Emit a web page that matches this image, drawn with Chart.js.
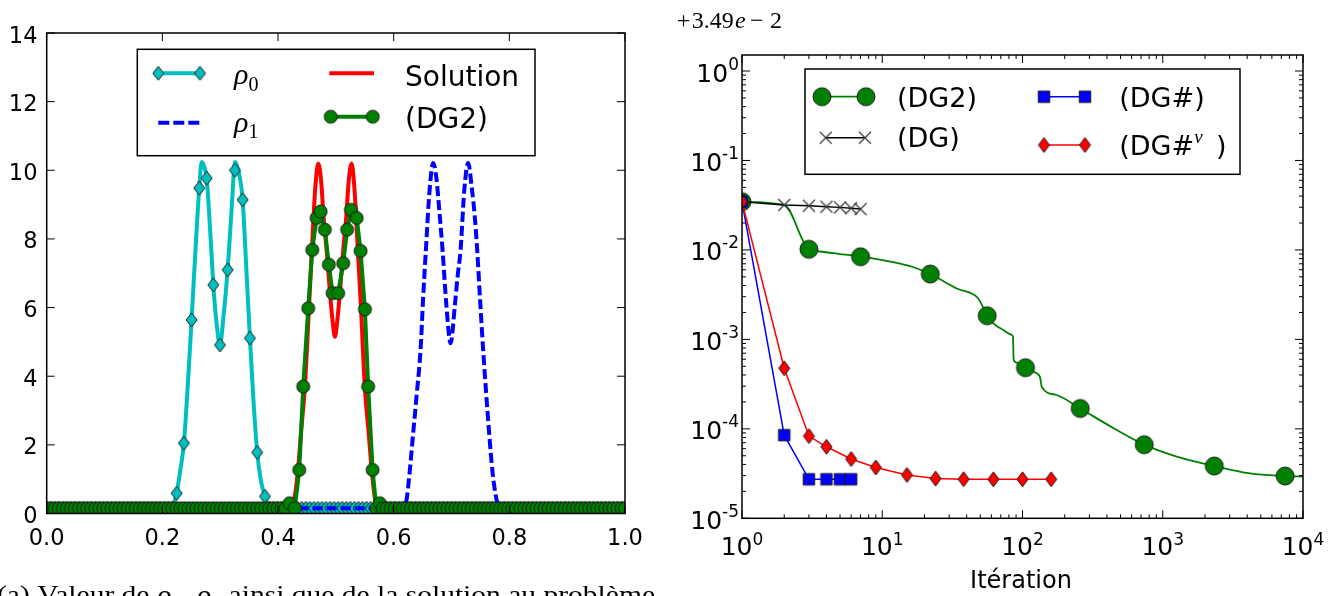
<!DOCTYPE html>
<html>
<head>
<meta charset="utf-8">
<title>rho profiles / convergence</title>
<script src="https://cdn.jsdelivr.net/npm/chart.js"></script>
<style>
  html, body { margin: 0; padding: 0; background: #fff; }
  #page { position: relative; width: 1336px; height: 596px; overflow: hidden; }
  #page canvas { position: absolute; left: 0; top: 0; }
</style>
</head>
<body>
<div id="page">
  <canvas id="profiles" width="1336" height="596"></canvas>
  <canvas id="convergence" width="1336" height="596"></canvas>
</div>
<script>
// ---------- left panel : densities on [0, 1] ----------
// x positions of the sample nodes lying on the floor value
const baseGrid = [
  0, .007, .014, .021, .028, .035, .042, .049, .056, .063,
  .070, .077, .084, .091, .098, .105, .112, .119, .126, .133,
  .140, .147, .154, .161, .168, .175, .182, .189, .196, .203,
  .210, .217, .224, .231, .238, .245, .252, .259, .266, .273,
  .280, .287, .294, .301, .308, .315, .322, .329, .336, .343,
  .350, .357, .364, .371, .378, .385, .392, .399, .406, .413,
  .420, .427, .434, .441, .448, .455, .462, .469, .476, .483,
  .490, .497, .504, .511, .518, .525, .532, .539, .546, .553,
  .560, .567, .574, .581, .588, .595, .602, .609, .616, .623,
  .630, .637, .644, .651, .658, .665, .672, .679, .686, .693,
  .700, .707, .714, .721, .728, .735, .742, .749, .756, .763,
  .770, .777, .784, .791, .798, .805, .812, .819, .826, .833,
  .840, .847, .854, .861, .868, .875, .882, .889, .896, .903,
  .910, .917, .924, .931, .938, .945, .952, .959, .966, .973,
  .980, .987, .994, 1
];
const baseLevel = 0.15;

const rho0LineX = [0, 0.214, 0.219, 0.2247, 0.2305, 0.2373, 0.244, 0.2506, 0.257, 0.2638, 0.268, 0.2725, 0.2766, 0.2825, 0.2881, 0.294, 0.2996, 0.3055, 0.3129, 0.3195, 0.3258, 0.332, 0.3388, 0.345, 0.3514, 0.3575, 0.364, 0.3705, 0.3774, 0.383, 1];
const rho0LineY = [0.15, 0.15, 0.25, 0.59, 1.2, 2.05, 3.75, 5.64, 7.6, 9.48, 10.24, 10.1, 9.77, 8.3, 6.66, 5.5, 4.91, 5.7, 7.1, 8.8, 10.24, 9.95, 9.14, 7.2, 5.11, 3.3, 1.78, 0.95, 0.5, 0.15, 0.15];
const rho0MarkX = [0.2247, 0.2373, 0.2506, 0.2638, 0.2766, 0.2881, 0.2996, 0.3129, 0.3255, 0.3388, 0.3514, 0.364, 0.3774];
const rho0MarkY = [0.59, 2.05, 5.64, 9.48, 9.77, 6.66, 4.91, 7.1, 10.0, 9.14, 5.11, 1.78, 0.5];

const rho1X = [0, 0.618, 0.6223, 0.627, 0.6337, 0.640, 0.6465, 0.651, 0.6557, 0.662, 0.6683, 0.674, 0.679, 0.6845, 0.691, 0.6984, 0.706, 0.7105, 0.7157, 0.722, 0.7288, 0.735, 0.740, 0.7444, 0.7495, 0.7547, 0.7651, 0.771, 0.7779, 0.783, 1];
const rho1Y = [0.15, 0.15, 0.4, 1.1, 2.34, 3.5, 4.77, 6.3, 7.68, 9.4, 10.21, 9.75, 8.8, 7.68, 6.1, 4.96, 6.1, 6.9, 7.68, 9.4, 10.21, 9.5, 8.7, 7.68, 6.2, 4.77, 2.34, 1.2, 0.4, 0.15, 0.15];

const solX = [0, 0.422, 0.428, 0.4345, 0.440, 0.4465, 0.4535, 0.4585, 0.4645, 0.4695, 0.4745, 0.479, 0.484, 0.4895, 0.4944, 0.4984, 0.5024, 0.5073, 0.5128, 0.5178, 0.5223, 0.5272, 0.532, 0.538, 0.5435, 0.550, 0.5565, 0.562, 0.568, 0.575, 1];
const solY = [0.15, 0.15, 0.4, 1.27, 2.4, 3.7, 5.98, 7.68, 9.5, 10.2, 9.7, 8.6, 7.68, 6.5, 5.6, 5.15, 5.6, 6.5, 7.68, 8.6, 9.7, 10.2, 9.5, 7.68, 5.98, 3.7, 2.4, 1.27, 0.4, 0.15, 0.15];

const dg2BumpX = [0.420, 0.429, 0.4367, 0.4436, 0.4522, 0.4592, 0.4667, 0.4736, 0.4810, 0.4879, 0.4944, 0.5040, 0.5127, 0.5196, 0.5260, 0.5360, 0.5428, 0.5502, 0.5559, 0.5635, 0.5700, 0.5760];
const dg2BumpY = [0.30, 0.15, 1.27, 3.70, 5.98, 7.68, 8.61, 8.80, 8.27, 7.25, 6.42, 6.42, 7.29, 8.27, 8.85, 8.61, 7.65, 5.95, 3.70, 1.27, 0.15, 0.30];

const leftXTicks = [0, 0.2, 0.4, 0.6, 0.8, 1.0];
const leftXLabels = ['0.0', '0.2', '0.4', '0.6', '0.8', '1.0'];
const leftYTicks = [0, 2, 4, 6, 8, 10, 12, 14];
const leftYLabels = ['0', '2', '4', '6', '8', '10', '12', '14'];

// ---------- right panel : error vs iteration ----------
const iterDG = [1, 2, 3, 4, 5, 6, 7];
const errDG = [0.0346, 0.0318, 0.0312, 0.0304, 0.0299, 0.0292, 0.0286];
const iterSharp = [1, 2, 3, 4, 5, 6];
const errSharp = [0.0346, 8.5e-5, 2.73e-5, 2.73e-5, 2.73e-5, 2.73e-5];
const iterNu = [1, 2, 3, 4, 6, 9, 15, 24, 38, 62, 100, 160];
const errNu = [0.0346, 4.75e-4, 8.3e-5, 6.3e-5, 4.6e-5, 3.7e-5, 3.05e-5, 2.78e-5, 2.74e-5, 2.73e-5, 2.73e-5, 2.73e-5];
const iterDG2 = [1, 2, 3, 3.6, 5, 7, 11.4, 16.7, 22, 34, 48, 53, 56, 62, 73, 84, 85.5, 86.5, 91, 105, 119, 133, 137.5, 175, 258, 409, 738, 1257, 2330, 4190, 7450, 10000];
const errDG2 = [0.0346, 0.0318, 0.01016, 0.0096, 0.0090, 0.0084, 0.0074, 0.0064, 0.00538, 0.0037, 0.0029, 0.0022, 0.00184, 0.00151, 0.00127, 0.00112, 0.00107, 0.00059, 0.00055, 0.000482, 0.000435, 0.000383, 0.000292, 0.000239, 0.000169, 0.00011, 6.65e-5, 4.89e-5, 3.84e-5, 3.18e-5, 2.97e-5, 2.92e-5];
const iterDG2Marks = [1, 3, 7, 22, 56, 105, 258, 738, 2330, 7450];
const errDG2Marks = [0.0346, 0.01016, 0.0084, 0.00538, 0.00184, 0.000482, 0.000169, 6.65e-5, 3.84e-5, 2.97e-5];

const rightXDecades = [1, 10, 100, 1000, 10000];
const rightXExp = ['0', '1', '2', '3', '4'];
const rightYDecades = [1, 0.1, 0.01, 0.001, 1e-4, 1e-5];
const rightYExp = ['0', '-1', '-2', '-3', '-4', '-5'];

// ---------- helpers ----------
const CYAN = '#00bfbf', GREEN = '#008000', BLUE = '#0000ff', RED = '#ff0000';
const EDGE = '#1b1b1b';
const SANS = '"DejaVu Sans"', SERIF = '"Liberation Serif"';

function pts(xs, ys) { return xs.map((x, i) => ({ x: x, y: ys[i] })); }

function markerImage(kind, w, h, fill, stroke, lw) {
  const pad = 2;
  const c = document.createElement('canvas');
  c.width = Math.round(w + 2 * pad);
  c.height = Math.round(h + 2 * pad);
  const g = c.getContext('2d');
  const cx = c.width / 2, cy = c.height / 2;
  g.fillStyle = fill || 'transparent';
  g.strokeStyle = stroke;
  g.lineWidth = lw;
  g.beginPath();
  if (kind === 'circle') {
    g.arc(cx, cy, w / 2, 0, Math.PI * 2);
  } else if (kind === 'square') {
    g.rect(cx - w / 2, cy - h / 2, w, h);
  } else if (kind === 'diamond') {
    g.moveTo(cx, cy - h / 2); g.lineTo(cx + w / 2, cy);
    g.lineTo(cx, cy + h / 2); g.lineTo(cx - w / 2, cy); g.closePath();
  } else if (kind === 'cross') {
    g.moveTo(cx - w / 2, cy - h / 2); g.lineTo(cx + w / 2, cy + h / 2);
    g.moveTo(cx + w / 2, cy - h / 2); g.lineTo(cx - w / 2, cy + h / 2);
    g.stroke();
    return c;
  }
  g.fill();
  g.stroke();
  return c;
}

const cyanDiamond = markerImage('diamond', 11, 14, CYAN, EDGE, 1);
const greenDotSmall = markerImage('circle', 13, 13, GREEN, EDGE, 1);
const greenDotBig = markerImage('circle', 18, 18, GREEN, EDGE, 1);
const blueSquare = markerImage('square', 11.5, 11.5, BLUE, EDGE, 1);
const redDiamond = markerImage('diamond', 11, 15, RED, EDGE, 1);
const blackCross = markerImage('cross', 12, 12, null, '#333', 1.2);

function frame(ctx, a) {
  ctx.strokeStyle = '#000';
  ctx.lineWidth = 1.5;
  ctx.strokeRect(a.left, a.top, a.right - a.left, a.bottom - a.top);
}
function tickX(ctx, a, p, len) {
  ctx.beginPath();
  ctx.moveTo(p, a.bottom); ctx.lineTo(p, a.bottom - len);
  ctx.moveTo(p, a.top); ctx.lineTo(p, a.top + len);
  ctx.stroke();
}
function tickY(ctx, a, p, len) {
  ctx.beginPath();
  ctx.moveTo(a.left, p); ctx.lineTo(a.left + len, p);
  ctx.moveTo(a.right, p); ctx.lineTo(a.right - len, p);
  ctx.stroke();
}
function legendLine(ctx, x1, x2, y, color, width, dash, marker) {
  ctx.save();
  ctx.strokeStyle = color;
  ctx.lineWidth = width;
  ctx.setLineDash(dash || []);
  ctx.beginPath(); ctx.moveTo(x1, y); ctx.lineTo(x2, y); ctx.stroke();
  ctx.restore();
  if (marker) {
    [x1, x2].forEach(x => ctx.drawImage(marker, x - marker.width / 2, y - marker.height / 2));
  }
}
function runs(ctx, x, list) {
  list.forEach(r => {
    ctx.font = r[1];
    ctx.fillText(r[0], x, r[2]);
    x += ctx.measureText(r[0]).width;
  });
  return x;
}
function legendBox(ctx, x1, y1, x2, y2) {
  ctx.fillStyle = '#fff';
  ctx.fillRect(x1, y1, x2 - x1, y2 - y1);
  ctx.strokeStyle = '#000';
  ctx.lineWidth = 1.5;
  ctx.strokeRect(x1, y1, x2 - x1, y2 - y1);
}

// ---------- left chart ----------
const dg2Left = [
  ...baseGrid.filter(x => x <= 0.413).map(x => ({ x: x, y: baseLevel })),
  ...pts(dg2BumpX, dg2BumpY),
  ...baseGrid.filter(x => x >= 0.581).map(x => ({ x: x, y: baseLevel }))
];
const rho0Marks = [
  ...baseGrid.filter(x => x < 0.218 || x > 0.382).map(x => ({ x: x, y: baseLevel })),
  ...pts(rho0MarkX, rho0MarkY)
];

const profilesDecor = {
  id: 'profilesDecor',
  afterDatasetsDraw(chart) {
    const ctx = chart.ctx, a = chart.chartArea;
    const xs = chart.scales.x, ys = chart.scales.y;
    ctx.save();
    frame(ctx, a);
    ctx.lineWidth = 1;
    leftXTicks.forEach(v => tickX(ctx, a, xs.getPixelForValue(v), 8));
    leftYTicks.forEach(v => tickY(ctx, a, ys.getPixelForValue(v), 8));

    ctx.fillStyle = '#000';
    ctx.font = '22.5px ' + SANS;
    ctx.textBaseline = 'alphabetic';
    ctx.textAlign = 'center';
    leftXTicks.forEach((v, i) => ctx.fillText(leftXLabels[i], xs.getPixelForValue(v), 545));
    ctx.textAlign = 'right';
    leftYTicks.forEach((v, i) => ctx.fillText(leftYLabels[i], 37.5, ys.getPixelForValue(v) + 9.5));
    ctx.textAlign = 'left';

    // legend
    legendBox(ctx, 137.3, 49.3, 535, 155.7);
    legendLine(ctx, 158.3, 200, 73.3, CYAN, 4, null, cyanDiamond);
    legendLine(ctx, 158.3, 200, 122.7, BLUE, 4, [11, 4], null);
    legendLine(ctx, 329.3, 374, 73.3, RED, 4, null, null);
    legendLine(ctx, 330.7, 372.7, 116.7, GREEN, 4, null, greenDotSmall);
    ctx.fillStyle = '#000';
    let x = runs(ctx, 234, [['\u03c1', 'italic 30px ' + SERIF, 84]]);
    runs(ctx, x, [['0', '20px ' + SERIF, 90.7]]);
    x = runs(ctx, 234, [['\u03c1', 'italic 30px ' + SERIF, 131.5]]);
    runs(ctx, x, [['1', '20px ' + SERIF, 138]]);
    ctx.font = '28px ' + SANS;
    ctx.fillText('Solution', 405, 86);
    ctx.fillText('(DG2)', 405, 128.3);

    // caption, cut by the bottom edge
    const R = '25px ' + SERIF, I = 'italic 26px ' + SERIF, S = '17px ' + SERIF;
    const cap = [['(a) Valeur de ', R, 0], ['\u03c1', I, 0], ['0', S, 4], [', ', R, 0], ['\u03c1', I, 0], ['1', S, 4], [' ainsi que de la solution au probl\u00e8me', R, 0]];
    let w = 0;
    cap.forEach(r => { ctx.font = r[1]; w += ctx.measureText(r[0]).width; });
    ctx.save();
    ctx.translate(-3, 603);
    ctx.scale(658 / w, 1);
    runs(ctx, 0, cap);
    ctx.restore();
    ctx.restore();
  }
};

new Chart(document.getElementById('profiles'), {
  type: 'line',
  data: {
    datasets: [
      { label: '\u03c10', data: pts(rho0LineX, rho0LineY), borderColor: CYAN, borderWidth: 4, pointRadius: 0,
        cubicInterpolationMode: 'monotone', borderJoinStyle: 'round', order: 9 },
      { label: '\u03c10 nodes', data: rho0Marks, showLine: false, pointStyle: cyanDiamond, pointRadius: 7, order: 8 },
      { label: '\u03c11', data: pts(rho1X, rho1Y), borderColor: BLUE, borderWidth: 4, borderDash: [10, 4], pointRadius: 0,
        cubicInterpolationMode: 'monotone', order: 7 },
      { label: 'Solution', data: pts(solX, solY), borderColor: RED, borderWidth: 4, pointRadius: 0,
        cubicInterpolationMode: 'monotone', borderJoinStyle: 'round', order: 6 },
      { label: '(DG2)', data: dg2Left, borderColor: GREEN, borderWidth: 4, pointStyle: greenDotSmall, pointRadius: 7,
        borderJoinStyle: 'round', order: 5 }
    ]
  },
  options: {
    responsive: false,
    animation: false,
    events: [],
    layout: { padding: { left: 46.7, top: 33, right: 1336 - 625, bottom: 596 - 513.5 } },
    scales: {
      x: { type: 'linear', min: 0, max: 1, bounds: 'data', display: false },
      y: { type: 'linear', min: 0, max: 14, bounds: 'data', display: false }
    },
    plugins: { legend: { display: false }, tooltip: { enabled: false } }
  },
  plugins: [profilesDecor]
});

// ---------- right chart ----------
const convergenceDecor = {
  id: 'convergenceDecor',
  afterDatasetsDraw(chart) {
    const ctx = chart.ctx, a = chart.chartArea;
    const xs = chart.scales.x, ys = chart.scales.y;
    ctx.save();
    frame(ctx, a);
    ctx.lineWidth = 1;
    rightXDecades.forEach((d, i) => {
      tickX(ctx, a, xs.getPixelForValue(d), 8);
      if (i < rightXDecades.length - 1) {
        [2, 3, 4, 5, 6, 7, 8, 9].forEach(k => tickX(ctx, a, xs.getPixelForValue(d * k), 4));
      }
    });
    rightYDecades.forEach(d => {
      tickY(ctx, a, ys.getPixelForValue(d), 8);
      [2, 3, 4, 5, 6, 7, 8, 9].forEach(k => {
        if (d * k < ys.max) tickY(ctx, a, ys.getPixelForValue(d * k), 4);
      });
    });

    ctx.fillStyle = '#000';
    ctx.textBaseline = 'alphabetic';
    ctx.textAlign = 'left';
    const BASE = '25px ' + SANS, SUP = '17px ' + SANS;
    rightXDecades.forEach((d, i) => {
      ctx.font = BASE; const w1 = ctx.measureText('10').width;
      ctx.font = SUP; const w2 = ctx.measureText(rightXExp[i]).width;
      const x0 = xs.getPixelForValue(d) - (w1 + w2) / 2;
      runs(ctx, x0, [['10', BASE, 555], [rightXExp[i], SUP, 545]]);
    });
    rightYDecades.forEach((d, i) => {
      const p = ys.getPixelForValue(d);
      ctx.font = BASE; const w1 = ctx.measureText('10').width;
      ctx.font = SUP; const w2 = ctx.measureText(rightYExp[i]).width;
      runs(ctx, 739 - w1 - w2, [['10', BASE, p + 10.5], [rightYExp[i], SUP, p - 1.5]]);
    });

    ctx.font = '24px ' + SANS;
    ctx.textAlign = 'center';
    ctx.fillText('It\u00e9ration', 1021, 588);
    ctx.textAlign = 'left';

    // offset text of the y axis
    const M = '24px ' + SERIF, MI = 'italic 24px ' + SERIF;
    runs(ctx, 676.7, [['+', M, 28.3]]);
    runs(ctx, 691.7, [['3.49', M, 28.3]]);
    runs(ctx, 735, [['e', MI, 28.3]]);
    runs(ctx, 750, [['\u2212', M, 28.3]]);
    runs(ctx, 770, [['2', M, 28.3]]);

    // legend
    legendBox(ctx, 805, 69, 1240, 174.3);
    legendLine(ctx, 822, 866, 96.7, GREEN, 1.8, null, greenDotBig);
    legendLine(ctx, 825.7, 865, 137.7, '#000', 1.5, null, blackCross);
    legendLine(ctx, 1044, 1085, 96.7, BLUE, 1.5, null, blueSquare);
    legendLine(ctx, 1044, 1085, 145, RED, 1.5, null, redDiamond);
    ctx.fillStyle = '#000';
    const L = '27px ' + SANS, LI = 'italic 27px ' + SANS;
    runs(ctx, 897, [['(DG2)', L, 106.7]]);
    runs(ctx, 897, [['(DG)', L, 146.7]]);
    runs(ctx, 1119.3, [['(DG', L, 107.3], ['#', LI, 107.3], [')', L, 107.3]]);
    runs(ctx, 1119.3, [['(DG', L, 155], ['#', LI, 155], ['\u03bd', 'italic 19px ' + SERIF, 143]]);
    runs(ctx, 1216, [[')', L, 155]]);
    ctx.restore();
  }
};

new Chart(document.getElementById('convergence'), {
  type: 'line',
  data: {
    datasets: [
      { label: '(DG2) curve', data: pts(iterDG2, errDG2), borderColor: GREEN, borderWidth: 1.8, pointRadius: 0,
        cubicInterpolationMode: 'monotone', order: 9 },
      { label: '(DG2)', data: pts(iterDG2Marks, errDG2Marks), showLine: false, pointStyle: greenDotBig, pointRadius: 9, order: 8 },
      { label: '(DG)', data: pts(iterDG, errDG), borderColor: '#000', borderWidth: 1.5, pointStyle: blackCross, pointRadius: 7, order: 7 },
      { label: '(DG#)', data: pts(iterSharp, errSharp), borderColor: BLUE, borderWidth: 1.5, pointStyle: blueSquare, pointRadius: 7, order: 6 },
      { label: '(DG#nu)', data: pts(iterNu, errNu), borderColor: RED, borderWidth: 1.5, pointStyle: redDiamond, pointRadius: 8, order: 5 }
    ]
  },
  options: {
    responsive: false,
    animation: false,
    events: [],
    layout: { padding: { left: 742, top: 55, right: 1336 - 1303, bottom: 596 - 518.3 } },
    scales: {
      x: { type: 'logarithmic', min: 1, max: 10000, bounds: 'data', display: false },
      y: { type: 'logarithmic', min: 1e-5, max: 1.51, bounds: 'data', display: false }
    },
    plugins: { legend: { display: false }, tooltip: { enabled: false } }
  },
  plugins: [convergenceDecor]
});
</script>
</body>
</html>
